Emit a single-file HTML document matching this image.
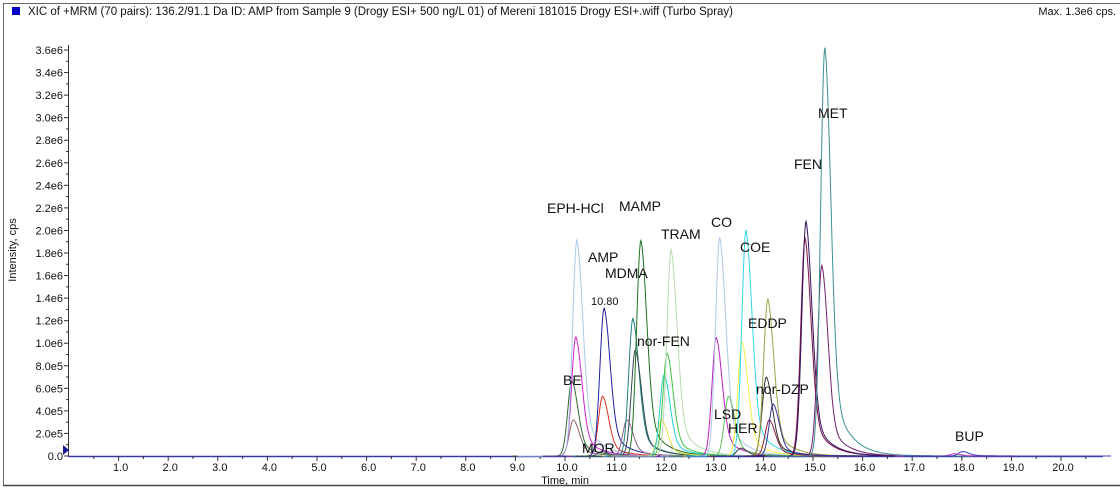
<!DOCTYPE html>
<html><head><meta charset="utf-8"><style>
html,body{margin:0;padding:0;background:#fff;}
svg{display:block;font-family:"Liberation Sans",Arial,sans-serif;}
</style></head><body>
<svg id="s" width="1120" height="490" viewBox="0 0 1120 490" xmlns="http://www.w3.org/2000/svg">
<rect x="0" y="0" width="1120" height="490" fill="#fff"/>
<line x1="3" y1="3.5" x2="1120" y2="3.5" stroke="#666" stroke-width="1"/>
<line x1="3.5" y1="3" x2="3.5" y2="486" stroke="#666" stroke-width="1"/>
<line x1="3" y1="485.5" x2="1120" y2="485.5" stroke="#444" stroke-width="1.5"/>
<rect x="12" y="7" width="8" height="8" fill="#0000c0"/>
<text x="28" y="15" font-size="11.5" fill="#111" textLength="705">XIC of +MRM (70 pairs): 136.2/91.1 Da ID: AMP from Sample 9 (Drogy ESI+ 500 ng/L 01) of Mereni 181015 Drogy ESI+.wiff (Turbo Spray)</text>
<text x="1116" y="15" font-size="11" fill="#111" text-anchor="end">Max. 1.3e6 cps.</text>
<text transform="translate(16,250) rotate(-90)" font-size="11" fill="#111" text-anchor="middle">Intensity, cps</text>
<text x="565" y="484" font-size="11" fill="#111" text-anchor="middle">Time, min</text>
<g id="axes" stroke="#333" stroke-width="1"></g>
<g id="lbls" font-size="11" fill="#111"></g>
<g id="peaks" fill="none" stroke-width="1"></g>
<polygon points="63,445 69,450 63,455" fill="#1a1a9a"/>
<g font-size="14" fill="#111">
<text x="547" y="213">EPH-HCl</text>
<text x="619" y="211">MAMP</text>
<text x="661" y="239">TRAM</text>
<text x="711" y="227">CO</text>
<text x="740" y="252">COE</text>
<text x="588" y="262">AMP</text>
<text x="605" y="278">MDMA</text>
<text x="637" y="346">nor-FEN</text>
<text x="748" y="328">EDDP</text>
<text x="563" y="385">BE</text>
<text x="756" y="394">nor-DZP</text>
<text x="714" y="419">LSD</text>
<text x="728" y="433">HER</text>
<text x="582" y="453">MOR</text>
<text x="794" y="169">FEN</text>
<text x="818" y="118">MET</text>
<text x="955" y="441">BUP</text>
</g>
<text x="591" y="305" font-size="11" fill="#111">10.80</text>
</svg>
<script>
var NS="http://www.w3.org/2000/svg";
function X(t){return 69+49.6*t;} function Y(v){return 456-v/3.6e6*406;}
var ax=document.getElementById('axes'),lb=document.getElementById('lbls');
function el(p,tag,a,txt){var e=document.createElementNS(NS,tag);for(var k in a)e.setAttribute(k,a[k]);if(txt)e.textContent=txt;p.appendChild(e);return e;}
el(ax,'line',{x1:68.5,y1:45,x2:68.5,y2:456});
el(ax,'line',{x1:68,y1:456.5,x2:1103,y2:456.5,stroke:'#3a3aa0','stroke-width':1.5});
for(var i=0;i<=36;i++){var v=i*1e5,y=Y(v);var major=i%2==0;
 el(ax,'line',{x1:major?64:66,y1:y,x2:68,y2:y});
 if(major){var s=i==0?'0.0':(i>=10?((i/10).toFixed(1)+'e6'):((i).toFixed(1)+'e5'));
 el(lb,'text',{x:63,y:y+4,'text-anchor':'end'},s);}}
for(var t=0.5;t<=20.9;t+=0.5){var x=X(t);var maj=Math.abs(t-Math.round(t))<0.01;
 el(ax,'line',{x1:x,y1:456,x2:x,y2:maj?461:459});
 if(maj&&t>=1)el(lb,'text',{x:x+2,y:471,'text-anchor':'middle'},t.toFixed(1));}
var P=[
[10.17,0.32e6,'#8a6a6a'],[10.14,0.67e6,'#2e6b2e'],[10.22,1.055e6,'#d020d0'],[10.24,1.915e6,'#a8c8e8'],
[10.76,0.53e6,'#e03020'],[10.79,1.31e6,'#2020a0'],[10.75,0.04e6,'#6040a0'],
[11.25,0.32e6,'#906090'],[11.37,1.22e6,'#208080'],[11.42,0.94e6,'#304850'],[11.53,1.91e6,'#207020'],
[11.95,0.32e6,'#e0e040'],[12.0,0.72e6,'#20d0d0'],[12.06,0.91e6,'#40c040'],[12.14,1.83e6,'#b8d8b0'],
[13.05,1.05e6,'#c020c0'],[13.12,1.94e6,'#b0c8e8'],[13.3,0.53e6,'#60c060'],[13.55,0.07e6,'#404040'],
[13.57,1.01e6,'#f0f040'],[13.65,2.0e6,'#30d8e8'],[14.06,0.7e6,'#303030'],[14.09,1.39e6,'#a0a040'],[14.12,0.32e6,'#902040'],[14.2,0.46e6,'#3030a0'],
[14.84,1.93e6,'#801040'],[14.86,2.08e6,'#301060'],[15.18,1.69e6,'#702070'],[15.24,3.62e6,'#409090'],
[17.85,0.02e6,'#c040c0'],[18.02,0.04e6,'#4040c0']];
var pg=document.getElementById('peaks');
P.forEach(function(p){var t0=p[0],h=p[1],d='';
 for(var t=t0-1.2;t<=t0+3;t+=0.01){var dt=t-t0,f;
  if(dt<0)f=Math.exp(-dt*dt/(2*0.085*0.085));
  else f=0.75*Math.exp(-dt*dt/(2*0.12*0.12))+0.25*Math.exp(-dt/0.33);
  d+=(d?'L':'M')+X(t).toFixed(1)+','+Y(h*f).toFixed(1);}
 el(pg,'path',{d:d,stroke:p[2]});});
</script>
</body></html>
